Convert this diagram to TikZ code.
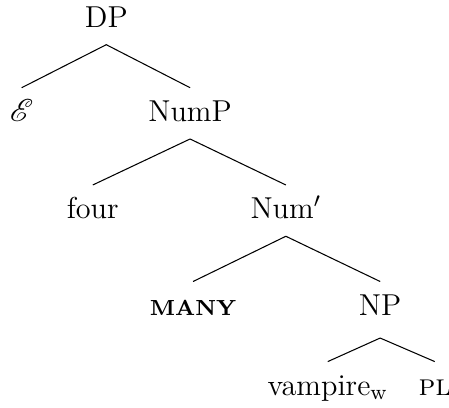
\documentclass[tikz,border=0pt]{standalone}
\usepackage{mathrsfs}
\tikzset{
  cat/.style={anchor=base,font=\fontsize{11.5}{13.5}\selectfont,text height=7.6pt,text depth=1.5pt,inner xsep=1pt,inner ysep=5pt},
  brn/.style={draw=black,line width=.4pt},
}
\begin{document}
\begin{tikzpicture}
\useasboundingbox (0,0) rectangle (6.0,5.452);
% top two levels
\node[cat] (DP) at (1.42,5.09) {DP};
\node[cat] (E) at (0.29,3.83) {$\mathscr{E}$};
\node[cat] (NumP) at (2.54,3.83) {NumP};
\node[cat] (four) at (1.24,2.53) {four};
\node[cat] (Numb) at (3.82,2.53) {Num$'$};
% lower part
\node[cat] (many) at (2.58,1.24) {\fontsize{8.3}{9}\selectfont\bfseries MANY};
\node[cat] (NP) at (5.08,1.24) {NP};
\node[cat] (vamp) at (4.38,0.17) {vampire\textsubscript{w}};
\node[cat] (pl) at (5.81,0.17) {\textsc{pl}};
\draw[brn] (DP.south)--(E.north) (DP.south)--(NumP.north);
\draw[brn] (NumP.south)--(four.north) (NumP.south)--(Numb.north);
\draw[brn] (Numb.south)--(many.north) (Numb.south)--(NP.north);
\draw[brn] ([yshift=-.7mm]NP.south)--(vamp.north) ([yshift=-.7mm]NP.south)--(pl.north);
\end{tikzpicture}
\end{document}
